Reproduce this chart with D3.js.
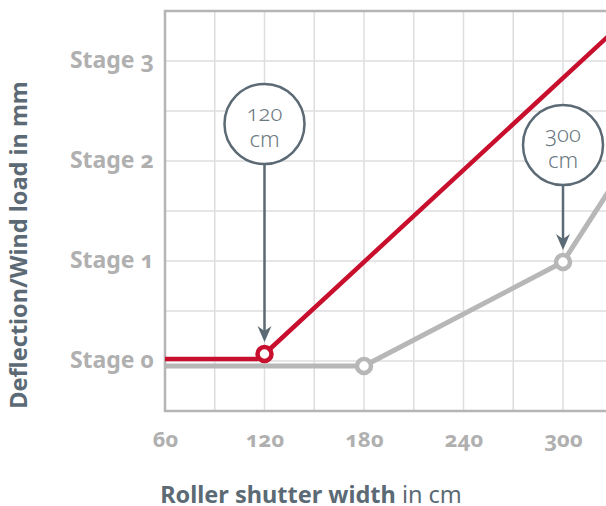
<!DOCTYPE html>
<html>
<head>
<meta charset="utf-8">
<script src="https://cdn.jsdelivr.net/npm/d3@7"></script>
<style>
  body { margin: 0; background: #fff; }
  svg { display: block; font-family: 'Noto Sans', sans-serif; font-variant-numeric: oldstyle-nums; font-feature-settings: 'onum' 1; }
</style>
</head>
<body>
<svg id="chart" width="606" height="506"></svg>
<script>
// tick values / labels
var xTicks = [60, 120, 180, 240, 300];
var stageTicks = [0, 1, 2, 3];
var stageLabels = ['Stage 0', 'Stage 1', 'Stage 2', 'Stage 3'];

// series (width in cm, stage)
var redSeries = [[60, 0.02], [116, 0.02], [120, 0.07], [360, 3.75]];
var redMarkers = [[120, 0.07]];
var graySeries = [[60, -0.05], [180, -0.05], [300, 0.99], [360, 2.53]];
var grayMarkers = [[180, -0.05], [300, 0.99]];

// callouts
var callouts = [
  { x: 120, target: 0.07, lines: ['120', 'cm'], lift: 2.3 },
  { x: 300, target: 0.99, lines: ['300', 'cm'], lift: 1.17 }
];

var svg = d3.select('#chart');
var left = 165, bottom = 411;

var x = d3.scaleLinear().domain([60, 360]).range([left, left + 300 * 99.5 / 60]);
var y = d3.scaleLinear().domain([-0.5, 3.5]).range([bottom, bottom - 400]);
var right = x(360);

var gridColor = '#dedede', axisColor = '#b5b5b5', slate = '#5b6a74';

svg.append('defs').append('clipPath').attr('id', 'plot')
  .append('rect').attr('x', left).attr('y', y(3.5)).attr('width', right - left).attr('height', bottom - y(3.5));

// grid
var grid = svg.append('g');
grid.selectAll('line.v').data(d3.range(90, 360, 30)).enter().append('line')
  .attr('x1', function (d) { return x(d); }).attr('x2', function (d) { return x(d); })
  .attr('y1', y(3.5)).attr('y2', bottom)
  .attr('stroke', gridColor).attr('stroke-width', 1.5);
grid.selectAll('line.h').data(d3.range(0, 3.5, 0.5)).enter().append('line')
  .attr('y1', function (d) { return y(d); }).attr('y2', function (d) { return y(d); })
  .attr('x1', left).attr('x2', right)
  .attr('stroke', gridColor).attr('stroke-width', 1.5);

// frame
svg.append('path')
  .attr('d', 'M' + right + ',' + y(3.5) + 'H' + left + 'V' + bottom + 'H' + right)
  .attr('fill', 'none').attr('stroke', axisColor).attr('stroke-width', 2.5);

// axes labels
var xAxis = d3.axisBottom(x).tickValues(xTicks).tickSize(0).tickPadding(0);
var gx = svg.append('g').attr('transform', 'translate(0,' + bottom + ')').call(xAxis);
gx.select('.domain').remove();
gx.selectAll('text').attr('dy', 0).attr('y', 36)
  .attr('fill', '#b0b0b0').attr('font-size', 22).attr('font-weight', 'bold')
  .attr('font-family', "'Noto Sans', sans-serif");

var yAxis = d3.axisLeft(y).tickValues(stageTicks).tickSize(0).tickPadding(0)
  .tickFormat(function (d, i) { return stageLabels[i]; });
var gy = svg.append('g').attr('transform', 'translate(' + (left - 11) + ',0)').call(yAxis);
gy.select('.domain').remove();
gy.selectAll('text').attr('dy', '0.3em')
  .attr('fill', '#b0b0b0').attr('font-size', 23).attr('font-weight', 'bold')
  .attr('font-family', "'Noto Sans', sans-serif");

// lines
var line = d3.line().x(function (d) { return x(d[0]); }).y(function (d) { return y(d[1]); });
var plot = svg.append('g').attr('clip-path', 'url(#plot)');
plot.append('path').datum(graySeries).attr('d', line)
  .attr('fill', 'none').attr('stroke', '#b7b7b7').attr('stroke-width', 5).attr('stroke-linejoin', 'round');
plot.append('path').datum(redSeries).attr('d', line)
  .attr('fill', 'none').attr('stroke', '#c8102e').attr('stroke-width', 4.5).attr('stroke-linejoin', 'round');

svg.selectAll('circle.gm').data(grayMarkers).enter().append('circle')
  .attr('cx', function (d) { return x(d[0]); }).attr('cy', function (d) { return y(d[1]); })
  .attr('r', 7).attr('fill', '#fff').attr('stroke', '#b7b7b7').attr('stroke-width', 4.5);
svg.selectAll('circle.rm').data(redMarkers).enter().append('circle')
  .attr('cx', function (d) { return x(d[0]); }).attr('cy', function (d) { return y(d[1]); })
  .attr('r', 7).attr('fill', '#fff').attr('stroke', '#c8102e').attr('stroke-width', 4.5);

// callouts
var co = svg.selectAll('g.callout').data(callouts).enter().append('g');
co.append('line')
  .attr('x1', function (d) { return x(d.x); }).attr('x2', function (d) { return x(d.x); })
  .attr('y1', function (d) { return y(d.target + d.lift) + 40; })
  .attr('y2', function (d) { return y(d.target) - 22; })
  .attr('stroke', slate).attr('stroke-width', 2.5);
co.append('path')
  .attr('d', function (d) {
    var cx = x(d.x), ty = y(d.target) - 12;
    return 'M' + cx + ',' + ty + 'L' + (cx - 7) + ',' + (ty - 16) + 'L' + cx + ',' + (ty - 11) + 'L' + (cx + 7) + ',' + (ty - 16) + 'Z';
  })
  .attr('fill', slate);
co.append('circle')
  .attr('cx', function (d) { return x(d.x); }).attr('cy', function (d) { return y(d.target + d.lift); })
  .attr('r', 40).attr('fill', '#fff').attr('stroke', slate).attr('stroke-width', 2.5);
co.each(function (d) {
  var g = d3.select(this);
  d.lines.forEach(function (t, i) {
    g.append('text')
      .attr('x', x(d.x)).attr('y', y(d.target + d.lift) - 3 + i * 26)
      .attr('text-anchor', 'middle').attr('fill', '#6b7982').attr('font-size', 22)
      .attr('font-weight', 300)
      .text(t);
  });
});

// titles
svg.append('text')
  .attr('transform', 'translate(27,' + 245 + ') rotate(-90)')
  .attr('text-anchor', 'middle').attr('fill', slate).attr('font-size', 23.5).attr('font-weight', 'bold')
  .text('Deflection/Wind load in mm');

var xt = svg.append('text').attr('x', 311).attr('y', 503).attr('text-anchor', 'middle')
  .attr('fill', slate).attr('font-size', 23.5);
xt.append('tspan').attr('font-weight', 'bold').text('Roller shutter width');
xt.append('tspan').text(' in cm');
</script>
</body>
</html>
